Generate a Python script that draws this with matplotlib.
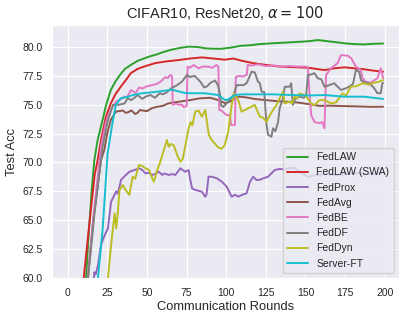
import matplotlib
matplotlib.use("Agg")
import matplotlib.pyplot as plt
import seaborn as sns

# FedLAW
fedlaw_r = [0, 5, 9, 11.5, 13, 15, 16.7, 18.8, 21.9, 24, 27.1, 30, 33, 36, 39.7, 44, 48, 52, 56, 60, 65, 70,
            76, 82, 87, 92, 97, 103, 109, 115, 121, 127, 133, 140, 146, 152, 158, 164, 170, 176, 181, 187,
            193, 199]
fedlaw_acc = [10, 30, 52, 60, 63.5, 67.5, 70.2, 71.95, 73.68, 74.9, 76.28, 77.0, 77.6, 78.1, 78.44, 78.8,
              79.0, 79.2, 79.35, 79.55, 79.75, 79.9, 80.03, 80.0, 79.88, 79.85, 79.85, 79.95, 80.1, 80.15,
              80.25, 80.3, 80.35, 80.4, 80.45, 80.5, 80.6, 80.5, 80.4, 80.3, 80.25, 80.22, 80.28, 80.3]

# FedLAW (SWA)
swa_r = [0, 5, 8, 10, 13.8, 17, 18.8, 20.9, 24, 27.1, 30, 33.4, 37, 39.7, 44, 48, 55, 62, 70, 77, 84.6, 92,
         99, 104.5, 110, 117, 125, 133.7, 143, 152, 157, 162, 168, 174.5, 181, 187, 193, 199]
swa_acc = [10, 30, 50, 60, 65.0, 69.0, 70.2, 71.95, 73.97, 75.12, 75.9, 76.56, 77.2, 77.73, 78.1, 78.3,
           78.6, 78.75, 78.87, 79.0, 79.1, 79.0, 78.9, 79.0, 78.8, 78.6, 78.45, 78.3, 78.25, 78.2, 78.1,
           78.0, 78.15, 78.24, 78.15, 78.07, 77.95, 77.86]

# FedProx
prox_r = [0, 10, 15, 16.7, 17.5, 19, 21, 23.2, 25.3, 27.3, 28.4, 30.5, 31.5, 33.6, 35.7, 38.9, 42, 45, 47,
          49, 51, 53.3, 55, 57.4, 59.6, 61, 63.7, 66, 67.9, 71, 73, 74.2, 76.2, 77, 78.4, 80.4, 82.5, 84.6,
          86.7, 87.5, 88.8, 90.9, 94, 97.2, 100.3, 103.4, 105.5, 107.6, 110, 112.8, 115, 117, 119.1, 121,
          123.3, 126.4, 128.5, 130.6, 133.7, 137, 140, 143.1, 146.3, 151.5, 156, 162, 170, 180, 190, 199]
prox_acc = [10, 40, 57, 60.5, 60.3, 61.1, 62.9, 63.7, 64.3, 66.6, 66.9, 67.5, 67.3, 68.5, 68.8, 69.2, 69.35,
            69.5, 69.35, 69.06, 69.1, 68.92, 69.0, 69.2, 68.92, 69.05, 68.92, 69.0, 68.92, 69.5, 69.3, 69.2,
            69.35, 68.7, 67.77, 67.62, 67.55, 67.47, 67.04, 67.2, 68.77, 68.77, 68.63, 68.34, 67.9, 67.04,
            67.2, 67.04, 67.2, 67.33, 68.34, 68.77, 68.48, 68.5, 68.63, 68.77, 69.06, 69.35, 69.44, 69.4,
            69.5, 69.55, 69.2, 68.77, 68.9, 69.0, 68.9, 69.1, 69.0, 69.1]

# FedAvg
avg_r = [0, 8, 12.7, 16, 20.9, 23, 25, 27.1, 30.3, 32.5, 34.7, 36.5, 38, 40, 41, 42.5, 44, 45.5, 47, 50, 53,
         56.4, 60, 63, 67, 72, 77, 83.6, 90, 95, 99, 102, 107.6, 112, 118, 125, 133, 140, 146, 152, 159,
         166, 175, 185, 192, 199]
avg_acc = [10, 45, 60, 65, 70.2, 71.1, 72.6, 73.68, 74.4, 74.45, 74.5, 74.3, 74.35, 74.5, 74.4, 74.2, 74.3,
           74.55, 74.5, 74.45, 74.7, 74.83, 74.9, 75.1, 75.2, 75.3, 75.4, 75.56, 75.6, 75.4, 75.15, 75.25,
           75.7, 75.65, 75.5, 75.4, 75.3, 75.25, 75.18, 75.05, 74.9, 74.92, 74.88, 74.85, 74.82, 74.83]

# FedBE
be_r = [0, 8, 12.5, 16.5, 21, 24, 27.1, 30.3, 32.5, 35.7, 37.6, 39.9, 42.8, 45, 47, 50, 53.3, 56, 58.5, 61.6,
        63, 64.8, 65.8, 66.2, 68, 70, 72.1, 73.1, 75.0, 75.6, 77, 79.4, 82.5, 85, 88.8, 91, 94, 95, 95.6,
        97, 98.5, 100.3, 102.4, 103, 105.5, 106, 108, 110.5, 113, 113.5, 116, 120, 125, 130, 135, 140, 145,
        150.5, 151.5, 152.5, 153.6, 155.7, 158.8, 160.5, 162, 163, 166, 170.3, 172.4, 176.6, 179, 181.8,
        185, 186, 188, 191, 195.4, 197.5, 198.5, 199]
be_acc = [10, 45, 60, 65.8, 71.5, 73.5, 74.55, 75.27, 75.4, 75.7, 75.7, 76.28, 76.0, 76.5, 76.4, 76.6, 76.7,
          76.8, 77.0, 77.4, 77.3, 77.6, 77.45, 74.98, 75.1, 75.0, 75.0, 74.8, 74.9, 78.3, 78.2, 78.44, 78.15,
          78.3, 78.3, 78.2, 78.44, 78.3, 74.55, 74.5, 74.3, 74.1, 74.1, 73.25, 73.25, 77.4, 77.5, 77.45,
          77.6, 78.44, 78.4, 78.5, 78.35, 78.4, 78.3, 78.35, 78.3, 78.3, 78.2, 76.1, 74.1, 73.5, 73.4, 73.5,
          72.96, 77.58, 78.15, 78.6, 79.3, 79.25, 79.0, 78.3, 78.0, 77.3, 77.0, 76.9, 77.3, 78.15, 77.6, 77.3]

# FedDF
df_r = [0, 8, 12.7, 16.9, 22.1, 25, 28.4, 32, 35.7, 37.8, 40, 42, 44, 47, 49, 52.2, 55, 58, 60, 62.7, 65,
        69, 72, 75.2, 77, 80, 83.6, 86, 88, 90, 93, 95, 96.1, 96.7, 98, 101.3, 104.5, 106.6, 111, 113, 116,
        118, 120, 121.2, 122.3, 124, 125.4, 126.4, 128.5, 129.5, 131, 132.7, 133.7, 135.8, 136.9, 140, 141,
        142, 143.5, 146.3, 149, 150.5, 151.5, 153, 155.7, 157.7, 160, 162, 165, 168.2, 170, 172.4, 175,
        177.6, 180, 181.8, 183.9, 185, 187.5, 190.2, 193, 195.4, 197.5, 198.5, 199]
df_acc = [10, 45, 60, 65.7, 71.5, 73.5, 74.98, 75.0, 75.1, 75.56, 75.4, 75.6, 75.84, 75.5, 75.7, 75.84, 75.6,
          76.0, 75.9, 76.1, 76.4, 76.7, 77.0, 77.58, 77.4, 77.5, 77.0, 76.5, 76.6, 76.9, 77.1, 76.6, 75.84,
          74.98, 74.8, 75.27, 75.84, 76.7, 76.7, 76.9, 77.86, 77.8, 77.0, 76.86, 76.13, 76.1, 73.25, 72.4,
          72.23, 72.96, 72.7, 73.5, 74.7, 75.56, 76.56, 76.56, 76.86, 74.98, 75.5, 75.7, 75.6, 75.9, 77.58,
          77.6, 77.73, 77.3, 77.2, 76.56, 76.7, 76.86, 76.6, 76.28, 76.4, 76.56, 76.8, 78.0, 77.86, 77.14,
          76.9, 76.86, 76.5, 76.0, 76.0, 76.86, 76.9]

# FedDyn
dyn_r = [0, 20, 25.3, 27.3, 29.5, 30.5, 31.5, 32.6, 34.7, 36.5, 38.9, 39.9, 41, 42.5, 44.9, 47, 49, 51.2,
         53.3, 54.3, 56.4, 58, 59.6, 61.6, 62.5, 63.7, 65, 66.8, 69, 71, 72.5, 74.2, 76.2, 77.5, 78.5, 80.4,
         82.5, 84.6, 86.7, 87.8, 89, 91, 93, 95, 97, 99, 101.3, 103.4, 105, 107.6, 109.7, 113.9, 118,
         121.2, 123, 125.4, 127.5, 129.5, 131.7, 133.7, 135.8, 136.9, 140, 141.5, 143.1, 145, 146.3, 149.4,
         151, 153.6, 155.5, 158.8, 162, 166, 169.3, 173.4, 175.5, 178.7, 182, 186, 190, 193, 196.4, 199]
dyn_acc = [10, 45, 60, 62.86, 65.6, 64.3, 65.6, 67.62, 68.05, 67.6, 67.19, 68.05, 68.77, 68.6, 69.78, 69.7,
           69.5, 69.35, 68.63, 68.34, 69.35, 69.9, 70.65, 71.5, 71.95, 71.37, 71.6, 71.5, 70.65, 70.07, 70.3,
           71.5, 72.96, 73.5, 73.2, 74.4, 74.5, 73.97, 74.55, 73.5, 72.4, 71.9, 71.6, 71.3, 71.2, 71.5, 72.7,
           74.98, 75.99, 75.4, 74.4, 74.7, 74.98, 73.97, 73.9, 73.53, 74.1, 74.55, 74.98, 75.56, 76.1, 75.12,
           75.27, 75.1, 75.7, 75.55, 75.99, 75.84, 75.6, 75.12, 74.95, 75.4, 75.4, 75.12, 75.2, 75.99, 75.8,
           76.56, 76.6, 76.86, 76.75, 76.9, 76.99, 77.14]

# Server-FT
ft_r = [0, 14, 19, 22, 25.1, 28, 30.3, 33.4, 35, 38, 41, 47, 55, 60, 65.8, 70, 74.2, 86.7, 95, 99.2, 101,
        105.5, 110, 117, 129.5, 142, 152, 162, 174.5, 187, 193, 199]
ft_acc = [10, 45, 60, 64.3, 70.8, 73.3, 75.0, 75.56, 75.6, 75.7, 75.84, 76.0, 76.1, 76.2, 76.3, 76.15, 76.0,
          75.99, 75.84, 75.4, 75.45, 75.84, 75.9, 75.9, 75.9, 75.84, 75.8, 75.84, 75.7, 75.7, 75.6, 75.5]

series = [
    (fedlaw_r, fedlaw_acc, "FedLAW", "tab:green"),
    (swa_r, swa_acc, "FedLAW (SWA)", "tab:red"),
    (prox_r, prox_acc, "FedProx", "tab:purple"),
    (avg_r, avg_acc, "FedAvg", "tab:brown"),
    (be_r, be_acc, "FedBE", "tab:pink"),
    (df_r, df_acc, "FedDF", "tab:gray"),
    (dyn_r, dyn_acc, "FedDyn", "tab:olive"),
    (ft_r, ft_acc, "Server-FT", "tab:cyan"),
]

sns.set_style("darkgrid")
plt.rcParams["font.family"] = ["Liberation Sans", "DejaVu Sans"]

fig = plt.figure(figsize=(4.07, 3.19), dpi=100)
ax = fig.add_axes([0.128, 0.1285, 0.852, 0.793])

for r, acc, label, color in series:
    ax.plot(r, acc, label=label, color=color, linewidth=1.4)

yt = [60, 62.5, 65, 67.5, 70, 72.5, 75, 77.5, 80]
ax.set_xlim(-9.95, 208.95)
ax.set_ylim(60, 81.9)
ax.set_xticks(range(0, 201, 25))
ax.set_yticks(yt)
ax.set_yticklabels(["%.1f" % v for v in yt])
ax.tick_params(labelsize=7.5)
ax.set_xlabel("Communication Rounds", fontsize=9.3, labelpad=2)
ax.set_ylabel("Test Acc", fontsize=9.3, labelpad=3)
ax.set_title(r"CIFAR10, ResNet20, $\alpha = 100$", fontsize=10.5, pad=5)
ax.legend(loc="lower right", fontsize=7.5)

fig.savefig("out.png", dpi=100)
